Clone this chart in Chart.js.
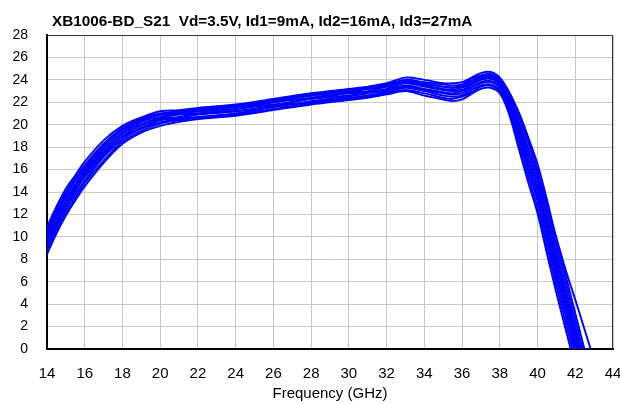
<!DOCTYPE html>
<html>
<head>
<meta charset="utf-8">
<script src="https://cdn.jsdelivr.net/npm/chart.js@4.4.1/dist/chart.umd.min.js"></script>
<style>
  html, body { margin: 0; padding: 0; background: #fff; }
  #wrap { width: 620px; height: 404px; }
</style>
</head>
<body>
<div id="wrap"><canvas id="s21Chart" width="620" height="404"></canvas></div>
<script>
'use strict';

// S21 gain (dB) vs frequency, several measured parts
const chartTitle = 'XB1006-BD_S21  Vd=3.5V, Id1=9mA, Id2=16mA, Id3=27mA';
const xTitle = 'Frequency (GHz)';
const xTicks = [14, 16, 18, 20, 22, 24, 26, 28, 30, 32, 34, 36, 38, 40, 42, 44];
const yTicks = [0, 2, 4, 6, 8, 10, 12, 14, 16, 18, 20, 22, 24, 26, 28];

const freqs = [14, 14.5, 15, 15.5, 16, 17, 18, 19, 20, 21, 22, 24, 26, 28, 30, 31, 32, 33, 34, 35, 35.5, 36, 36.5, 37, 37.5, 38, 38.5, 39, 39.5, 40, 40.5, 41, 41.5, 42, 42.5, 43];

const run1  = [8.45, 10.3, 11.9, 13.25, 14.5, 16.6, 18.3, 19.3, 19.9, 20.25, 20.5, 20.8, 21.3, 21.8, 22.2, 22.4, 22.7, 23.0, 22.6, 22.25, 22.1, 22.25, 22.75, 23.2, 23.3, 22.8, 20.9, 17.9, 14.9, 12.1, 8.5, 5.0, 1.7, -1.6, -4.9, -8.2];
const run2  = [8.8, 10.6, 12.2, 13.5, 14.8, 16.8, 18.5, 19.45, 20.1, 20.4, 20.6, 20.9, 21.4, 21.9, 22.3, 22.5, 22.8, 23.1, 22.8, 22.4, 22.3, 22.5, 22.9, 23.4, 23.5, 23.0, 21.1, 18.3, 15.4, 12.6, 9.1, 5.6, 2.3, -1.0, -4.3, -7.6];
const run3  = [9.1, 10.9, 12.5, 13.8, 15.0, 17.1, 18.7, 19.65, 20.2, 20.5, 20.7, 21.0, 21.6, 22.0, 22.4, 22.6, 22.9, 23.3, 23.0, 22.6, 22.5, 22.6, 23.1, 23.5, 23.6, 23.1, 21.4, 18.7, 15.9, 13.2, 9.7, 6.2, 2.9, -0.4, -3.7, -7.0];
const run4  = [9.3, 11.1, 12.7, 14.1, 15.3, 17.3, 18.9, 19.75, 20.4, 20.6, 20.9, 21.2, 21.6, 22.1, 22.5, 22.8, 23.0, 23.4, 23.1, 22.8, 22.7, 22.8, 23.3, 23.7, 23.8, 23.3, 21.6, 19.0, 16.3, 13.6, 10.2, 6.7, 3.4, 0.1, -3.2, -6.5];
const run5  = [9.6, 11.4, 13.0, 14.3, 15.5, 17.5, 19.0, 19.95, 20.5, 20.7, 21.0, 21.2, 21.7, 22.3, 22.6, 22.9, 23.1, 23.5, 23.2, 22.9, 22.8, 23.0, 23.4, 23.8, 23.9, 23.4, 21.8, 19.3, 16.7, 14.1, 10.7, 7.2, 3.9, 0.6, -2.7, -6.0];
const run6  = [9.8, 11.6, 13.2, 14.5, 15.7, 17.7, 19.2, 20.05, 20.6, 20.9, 21.0, 21.4, 21.8, 22.3, 22.8, 22.9, 23.2, 23.7, 23.4, 23.1, 23.0, 23.1, 23.6, 24.0, 24.1, 23.6, 22.0, 19.7, 17.1, 14.5, 11.1, 7.6, 4.3, 1.0, -2.3, -5.6];
const run7  = [10.1, 11.9, 13.5, 14.7, 15.9, 17.9, 19.3, 20.25, 20.7, 21.0, 21.2, 21.4, 22.0, 22.4, 22.9, 23.0, 23.4, 23.8, 23.5, 23.2, 23.1, 23.3, 23.7, 24.1, 24.2, 23.7, 22.2, 20.0, 17.5, 15.0, 11.6, 8.1, 4.8, 1.5, -1.8, -5.1];
const run8  = [10.3, 12.1, 13.7, 15.0, 16.1, 18.1, 19.5, 20.35, 20.9, 21.1, 21.2, 21.6, 22.0, 22.6, 22.9, 23.2, 23.4, 23.9, 23.6, 23.4, 23.3, 23.4, 23.9, 24.2, 24.3, 23.8, 22.4, 20.3, 17.9, 15.4, 12.1, 8.6, 5.3, 2.0, -1.3, -4.6];
const run9  = [10.6, 12.4, 14.0, 15.3, 16.4, 18.3, 19.7, 20.55, 21.0, 21.2, 21.4, 21.7, 22.2, 22.7, 23.1, 23.3, 23.6, 24.0, 23.8, 23.6, 23.5, 23.6, 24.1, 24.4, 24.5, 24.0, 22.6, 20.7, 18.4, 15.9, 12.7, 9.2, 5.9, 2.6, -0.7, -4.0];
const run10 = [10.9, 12.7, 14.3, 15.5, 16.7, 18.6, 19.9, 20.65, 21.2, 21.3, 21.5, 21.8, 22.3, 22.8, 23.2, 23.4, 23.7, 24.2, 24.0, 23.7, 23.7, 23.8, 24.2, 24.6, 24.7, 24.2, 22.9, 21.1, 18.9, 16.5, 13.3, 9.8, 6.5, 3.2, -0.1, -3.4];
const run11 = [10.4, 12.2, 13.8, 15.1, 16.3, 18.2, 19.6, 20.45, 20.9, 21.1, 21.3, 21.6, 22.1, 22.6, 23.0, 23.2, 23.5, 23.9, 23.7, 23.4, 23.3, 23.5, 23.9, 24.3, 24.4, 23.9, 22.6, 21.1, 18.8, 15.9, 12.8, 9.9, 7.0, 4.4, 1.7, -1.0];

const runs = [run1, run2, run3, run4, run5, run6, run7, run8, run9, run10, run11];

const fontFamily = '"Liberation Sans", Arial, sans-serif';

const datasets = runs.map((run, i) => ({
    label: 'run' + (i + 1),
    data: run.map((v, k) => ({ x: freqs[k], y: v })),
    borderColor: '#0000ff',
    borderWidth: 1.9,
    pointRadius: 0,
    tension: 0.35,
    fill: false
}));

// title is off-centre in the original, so drawn by hand
const titlePlugin = {
    id: 'titlePlugin',
    afterDraw(chart) {
        const ctx = chart.ctx;
        ctx.save();
        ctx.font = 'bold 15.3px ' + fontFamily;
        ctx.fillStyle = '#000';
        ctx.textAlign = 'left';
        ctx.textBaseline = 'alphabetic';
        ctx.fillText(chartTitle, 52, 26);
        ctx.restore();
    }
};

// thin frame on top and right of the plot
const framePlugin = {
    id: 'framePlugin',
    afterDatasetsDraw(chart) {
        const a = chart.chartArea;
        const ctx = chart.ctx;
        ctx.save();
        ctx.strokeStyle = '#333';
        ctx.lineWidth = 1;
        ctx.beginPath();
        ctx.moveTo(a.left, a.top + 0.5);
        ctx.lineTo(a.right - 0.5, a.top + 0.5);
        ctx.lineTo(a.right - 0.5, a.bottom);
        ctx.stroke();
        ctx.restore();
    }
};

new Chart(document.getElementById('s21Chart'), {
    type: 'line',
    data: { datasets: datasets },
    options: {
        responsive: false,
        devicePixelRatio: 1,
        animation: false,
        layout: { padding: { left: 0, right: 7, top: 35, bottom: 0 } },
        plugins: {
            legend: { display: false },
            tooltip: { enabled: false },
            title: { display: false }
        },
        scales: {
            x: {
                type: 'linear',
                min: 14,
                max: 44,
                afterFit: (scale) => {
                    scale.height = 55;
                    scale.paddingLeft = 0;
                    scale.paddingRight = 0;
                },
                afterBuildTicks: (scale) => { scale.ticks = xTicks.map(v => ({ value: v })); },
                grid: { color: '#c8c8c8', lineWidth: 1, drawTicks: false },
                border: { color: '#000', width: 2 },
                ticks: {
                    padding: 16,
                    color: '#000',
                    font: { family: fontFamily, size: 15 },
                    maxRotation: 0
                },
                title: {
                    display: true,
                    text: xTitle,
                    color: '#000',
                    font: { family: fontFamily, size: 15 },
                    padding: { top: 0, bottom: 1 }
                }
            },
            y: {
                min: 0,
                max: 28,
                afterFit: (scale) => {
                    scale.width = 47;
                    scale.paddingTop = 0;
                    scale.paddingBottom = 0;
                },
                afterBuildTicks: (scale) => { scale.ticks = yTicks.map(v => ({ value: v })); },
                grid: { color: '#c8c8c8', lineWidth: 1, drawTicks: false },
                border: { color: '#000', width: 2 },
                ticks: {
                    padding: 19,
                    color: '#000',
                    font: { family: fontFamily, size: 14 }
                }
            }
        }
    },
    plugins: [titlePlugin, framePlugin]
});
</script>
</body>
</html>
